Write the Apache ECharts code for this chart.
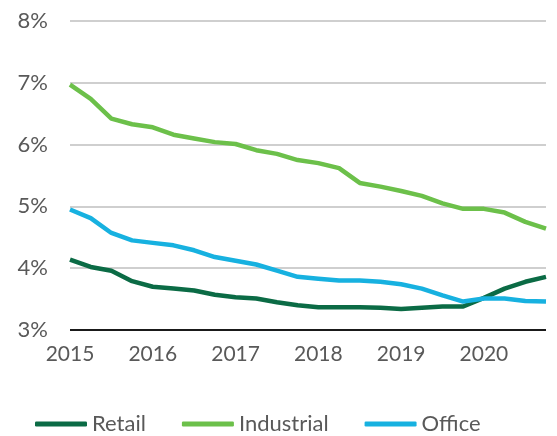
<!DOCTYPE html>
<html>
<head>
<meta charset="utf-8">
<script src="https://cdn.jsdelivr.net/npm/echarts@6/dist/echarts.min.js"></script>
<style>
    html, body { margin: 0; padding: 0; background: #fff; }
    #chart { width: 557px; height: 436px; }
</style>
</head>
<body>
<div id="chart"></div>
<script>
    // quarterly points, 2015 Q1 .. 2020 Q4
    var quarters = ['2015', '2015 Q2', '2015 Q3', '2015 Q4',
        '2016', '2016 Q2', '2016 Q3', '2016 Q4',
        '2017', '2017 Q2', '2017 Q3', '2017 Q4',
        '2018', '2018 Q2', '2018 Q3', '2018 Q4',
        '2019', '2019 Q2', '2019 Q3', '2019 Q4',
        '2020', '2020 Q2', '2020 Q3', '2020 Q4'];

    var retail = [4.14, 4.02, 3.96, 3.79, 3.70, 3.67, 3.64, 3.57, 3.53, 3.51, 3.45, 3.40,
        3.37, 3.37, 3.37, 3.36, 3.34, 3.36, 3.38, 3.38, 3.52, 3.67, 3.78, 3.86];
    var industrial = [6.97, 6.74, 6.42, 6.33, 6.28, 6.16, 6.10, 6.04, 6.01, 5.91, 5.85, 5.75,
        5.70, 5.62, 5.38, 5.32, 5.25, 5.17, 5.05, 4.96, 4.96, 4.90, 4.75, 4.64];
    var office = [4.95, 4.81, 4.57, 4.45, 4.41, 4.37, 4.29, 4.18, 4.12, 4.06, 3.96, 3.86,
        3.83, 3.80, 3.80, 3.78, 3.74, 3.67, 3.56, 3.46, 3.51, 3.51, 3.47, 3.46];

    var yMin = 3, yMax = 8, yStep = 1;

    var textColor = '#595959';
    var font = 'Lato';

    var chart = echarts.init(document.getElementById('chart'));
    var option = {
        animation: false,
        color: ['#0b6b45', '#6cc04a', '#17b1e0'],
        grid: {
            left: 70,
            right: 11,
            top: 21,
            bottom: 106
        },
        legend: {
            bottom: -4,
            left: 30,
            icon: 'roundRect',
            itemWidth: 52,
            itemHeight: 5,
            itemGap: 36,
            textStyle: {
                color: textColor,
                fontFamily: font,
                fontSize: 22
            },
            data: ['Retail', 'Industrial', 'Office']
        },
        xAxis: {
            type: 'category',
            boundaryGap: false,
            data: quarters,
            axisLine: { show: false },
            axisTick: { show: false },
            axisLabel: {
                interval: 3,
                margin: 14,
                color: textColor,
                fontFamily: font,
                fontSize: 21,
                formatter: function (v) { return v.slice(0, 4); }
            }
        },
        yAxis: {
            type: 'value',
            min: yMin,
            max: yMax,
            interval: yStep,
            axisLine: { show: false },
            axisTick: { show: false },
            axisLabel: {
                margin: 22,
                color: textColor,
                fontFamily: font,
                fontSize: 22,
                formatter: '{value}%'
            },
            splitLine: {
                lineStyle: { color: '#bfbfbf', width: 1.5 }
            }
        },
        series: [{
            name: 'Retail',
            type: 'line',
            symbol: 'none',
            lineStyle: { width: 4.5 },
            data: retail,
            markLine: {
                silent: true,
                symbol: 'none',
                label: { show: false },
                lineStyle: { color: '#1a1a1a', width: 2, type: 'solid' },
                data: [{ yAxis: yMin }]
            }
        }, {
            name: 'Industrial',
            type: 'line',
            symbol: 'none',
            lineStyle: { width: 4.5 },
            data: industrial
        }, {
            name: 'Office',
            type: 'line',
            symbol: 'none',
            lineStyle: { width: 4.5 },
            data: office
        }]
    };
    chart.setOption(option);
</script>
</body>
</html>
